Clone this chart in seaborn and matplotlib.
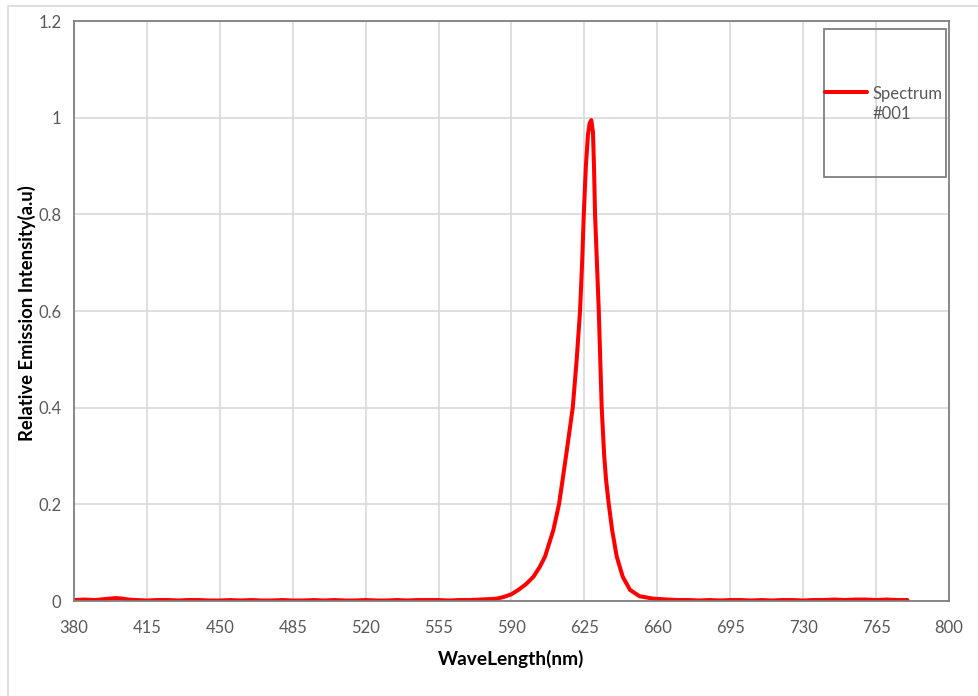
import numpy as np
import pandas as pd
import matplotlib.pyplot as plt
import matplotlib.patches as mpatches
from matplotlib.legend_handler import HandlerLine2D
import seaborn as sns

# wavelength (nm) and relative intensity
base_left_nm = [380, 385, 390, 395, 400, 403, 406, 410, 415, 420, 425, 430, 435, 440,
                445, 450, 455, 460, 465, 470, 475, 480, 485, 490, 495, 500, 505, 510,
                515, 520, 525, 530, 535, 540, 545, 550, 555, 560, 565, 570, 575, 580]
base_left_val = [0.002, 0.003, 0.002, 0.004, 0.006, 0.005, 0.003, 0.002, 0.001, 0.002,
                 0.002, 0.001, 0.002, 0.002, 0.001, 0.001, 0.002, 0.001, 0.002, 0.001,
                 0.001, 0.002, 0.001, 0.001, 0.002, 0.001, 0.002, 0.001, 0.001, 0.002,
                 0.001, 0.001, 0.002, 0.001, 0.002, 0.002, 0.002, 0.001, 0.002, 0.002,
                 0.003, 0.004]
peak_nm = [583, 586, 590, 593.3, 597, 600.5, 603.5, 606.1, 610.1, 612.8, 614.5, 616.5,
           619.4, 621.3, 622.9, 623.9, 624.7, 625.7, 626.7, 627.5, 628.3, 629.1, 629.6,
           630.1, 631.0, 631.9, 632.6, 633.3, 634.5, 635.4, 636.7, 638.3, 640.5, 643.4,
           646.9, 651.4, 657.8]
peak_val = [0.005, 0.008, 0.014, 0.023, 0.035, 0.050, 0.070, 0.092, 0.147, 0.200, 0.250,
            0.310, 0.400, 0.500, 0.600, 0.700, 0.800, 0.900, 0.965, 0.988, 0.995, 0.970,
            0.900, 0.800, 0.700, 0.600, 0.500, 0.400, 0.300, 0.250, 0.200, 0.147, 0.092,
            0.050, 0.023, 0.010, 0.005]
base_right_nm = [665, 670, 675, 680, 685, 690, 695, 700, 705, 710, 715, 720, 725, 730,
                 735, 740, 745, 750, 755, 760, 765, 770, 775, 780]
base_right_val = [0.003, 0.002, 0.002, 0.001, 0.002, 0.001, 0.002, 0.002, 0.001, 0.002,
                  0.001, 0.002, 0.002, 0.001, 0.002, 0.002, 0.003, 0.002, 0.003, 0.003,
                  0.002, 0.003, 0.002, 0.002]

x_ticks = list(range(380, 801, 35))
y_ticks = [0, 0.2, 0.4, 0.6, 0.8, 1.0, 1.2]

df = pd.DataFrame({
    "WaveLength(nm)": base_left_nm + peak_nm + base_right_nm,
    "Relative Emission Intensity(a.u)": base_left_val + peak_val + base_right_val,
})
df["series"] = "Spectrum\n#001"


# legend handle sits level with the first line of a wrapped label
class TopLine(HandlerLine2D):
    def create_artists(self, legend, orig_handle, xdescent, ydescent,
                       width, height, fontsize, trans):
        arts = super().create_artists(legend, orig_handle, xdescent, ydescent,
                                      width, height, fontsize, trans)
        for a in arts:
            a.set_ydata([y + 0.75 * fontsize for y in a.get_ydata()])
        return arts


sns.set_theme(style="whitegrid")
plt.rcParams["font.family"] = ["Lato", "DejaVu Sans"]

fig = plt.figure(figsize=(9.79, 6.96), dpi=100)
ax = fig.add_axes([74 / 979, 95 / 696, 875 / 979, 580 / 696])

sns.lineplot(data=df, x="WaveLength(nm)", y="Relative Emission Intensity(a.u)",
             hue="series", palette=["#ff0000"], linewidth=2.9, ax=ax,
             sort=True, estimator=None)

ax.set_xlim(380, 800)
ax.set_ylim(0, 1.2)
ax.set_xticks(x_ticks)
ax.set_yticks(y_ticks)
ax.set_yticklabels([f"{v:g}" for v in y_ticks])
ax.grid(True, color="#d9d9d9", linewidth=1.2)
ax.tick_params(axis="both", length=0, labelsize=12, colors="#595959")
ax.tick_params(axis="x", pad=14)
ax.tick_params(axis="y", pad=9)
for s in ax.spines.values():
    s.set_color("#7f7f7f")
    s.set_linewidth(1.3)

ax.set_xlabel("WaveLength(nm)", fontsize=13.8, fontweight="bold", color="black", labelpad=10)
ax.set_ylabel("Relative Emission Intensity(a.u)", fontsize=13.3, fontweight="bold",
              color="black")
ax.yaxis.set_label_coords(-0.043, 0.497)

# legend: transparent, boxed
handles, labels = ax.get_legend_handles_labels()
leg = ax.legend(handles, labels, loc="upper left",
                bbox_to_anchor=(744 / 875, (601 - 79) / 580),
                frameon=False, handlelength=2.55, handletextpad=0.35,
                borderaxespad=0, fontsize=12, labelcolor="#595959",
                handler_map={handles[0]: TopLine()})
for t in leg.get_texts():
    t.set_linespacing(1.35)
ax.add_patch(mpatches.Rectangle(((824 - 74) / 875, (601 - 177) / 580),
                                122 / 875, 148 / 580, transform=ax.transAxes,
                                fill=False, edgecolor="#7f7f7f", linewidth=1.3,
                                zorder=5))

# outer chart border
fig.patches.append(mpatches.Rectangle((8 / 979, -0.05), 1.0, 0.05 + 690 / 696,
                                      transform=fig.transFigure, fill=False,
                                      edgecolor="#d9d9d9", linewidth=1.2))

fig.savefig("out.png", dpi=100)
